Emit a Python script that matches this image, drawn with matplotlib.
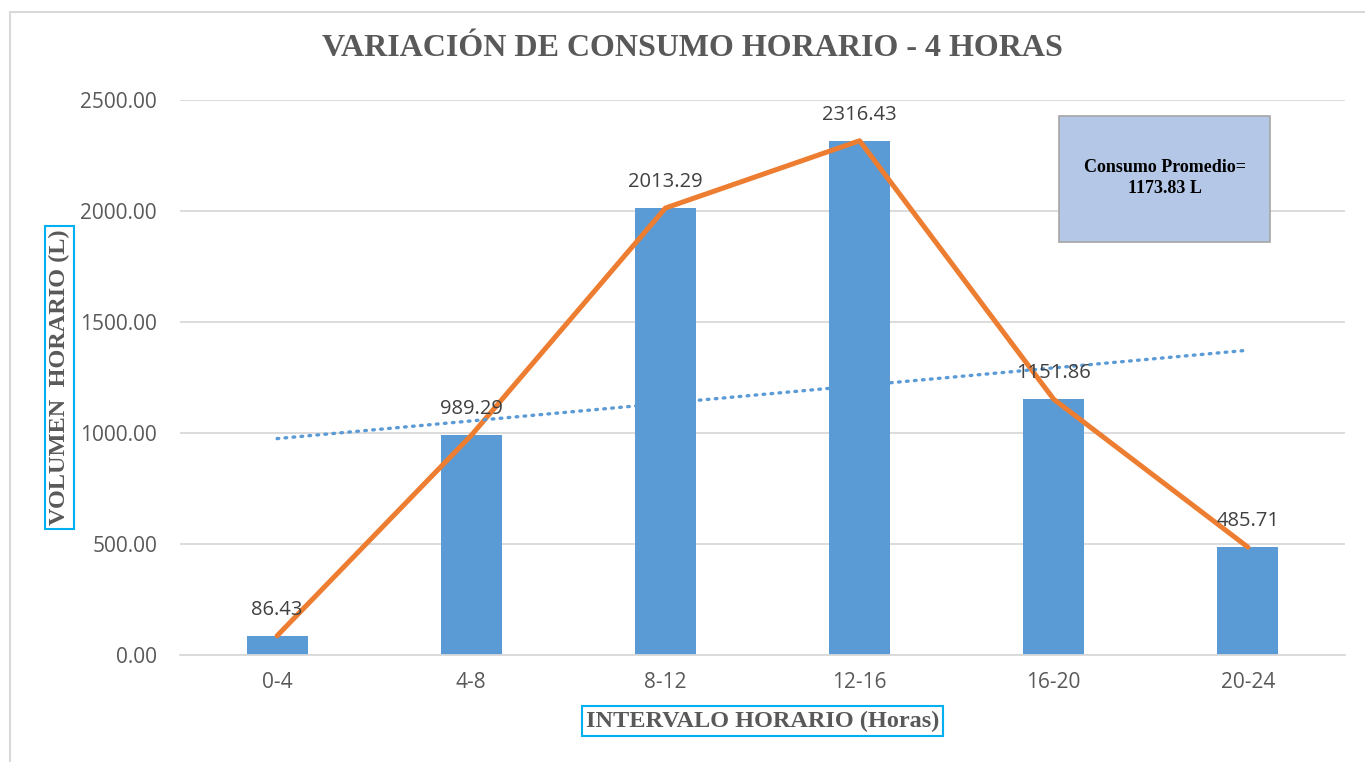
import numpy as np
import matplotlib
matplotlib.use("Agg")
import matplotlib.pyplot as plt
from matplotlib.patches import Rectangle

# Consumo por intervalo de 4 horas
intervalos = ["0-4", "4-8", "8-12", "12-16", "16-20", "20-24"]
volumen = [86.43, 989.29, 2013.29, 2316.43, 1151.86, 485.71]
consumo_promedio = 1173.83

AZUL = "#5B9BD5"
NARANJA = "#ED7D31"
GRIS = "#595959"
CIAN = "#00B0F0"

fig = plt.figure(figsize=(13.65, 7.62), dpi=100)
fig.patch.set_facecolor("white")

# marco del grafico
fig.patches.append(Rectangle((10 / 1365, -0.5), 1.5, 0.5 + 750 / 762,
                             transform=fig.transFigure, fill=False,
                             edgecolor="#D9D9D9", linewidth=1.5))

ax = fig.add_axes([180 / 1365, 107 / 762, 1165 / 1365, 555 / 762])
x = np.arange(len(intervalos))

ax.bar(x, volumen, width=0.315, color=AZUL, zorder=2)
ax.plot(x, volumen, color=NARANJA, linewidth=3.6, zorder=3,
        solid_capstyle="round")

# linea de tendencia lineal
m, b = np.polyfit(x, volumen, 1)
ax.plot(x, m * x + b, color=AZUL, linestyle=(0, (0.5, 1.9)), linewidth=2.4,
        dash_capstyle="round", zorder=3)

for xi, v in zip(x, volumen):
    ax.text(xi, v + 72, f"{v:.2f}", ha="center", va="bottom",
            fontsize=14.5, color="#404040", family="Open Sans", zorder=4)

ax.set_xlim(-0.5, 5.5)
ax.set_ylim(0, 2500)
ax.set_yticks(np.arange(0, 2501, 500))
ax.set_yticklabels([f"{t:.2f}" for t in np.arange(0, 2501, 500)])
ax.set_xticks(x)
ax.set_xticklabels(intervalos)
ax.grid(axis="y", color="#D9D9D9", linewidth=1.3, zorder=0)
ax.set_axisbelow(True)
for s in ax.spines.values():
    s.set_visible(False)
ax.spines["bottom"].set_visible(True)
ax.spines["bottom"].set_color("#D9D9D9")
ax.spines["bottom"].set_linewidth(1.3)
ax.tick_params(length=0, labelsize=15, labelcolor=GRIS)
ax.tick_params(axis="y", pad=16.5)
ax.tick_params(axis="x", pad=12)
for lbl in ax.get_xticklabels() + ax.get_yticklabels():
    lbl.set_family("Open Sans")

fig.text(692 / 1365, 1 - 48 / 762, "VARIACIÓN DE CONSUMO HORARIO - 4 HORAS",
         ha="center", va="center", fontsize=23, fontweight="bold",
         color=GRIS, family="Liberation Serif")

ax.set_ylabel("VOLUMEN  HORARIO (L)", fontsize=17.5, fontweight="bold",
              color=GRIS, family="Liberation Serif", labelpad=0,
              bbox=dict(facecolor="white", edgecolor=CIAN, linewidth=1.5,
                        pad=3))
ax.yaxis.set_label_coords(-0.0944, 0.5)

ax.set_xlabel("INTERVALO HORARIO (Horas)", fontsize=17.5, fontweight="bold",
              color=GRIS, family="Liberation Serif",
              bbox=dict(facecolor="white", edgecolor=CIAN, linewidth=1.5,
                        pad=3))
ax.xaxis.set_label_coords(0.5, -0.1)

# cuadro de consumo promedio
ax.add_patch(Rectangle((4.027, 1860), 1.087, 568, facecolor="#B4C7E7",
                       edgecolor="#A6A6A6", linewidth=1.2, zorder=5))
ax.text(4.573, 2150, f"Consumo Promedio=\n{consumo_promedio:.2f} L",
        ha="center", va="center", fontsize=13, fontweight="bold",
        color="black", family="Liberation Serif", linespacing=1.3,
        zorder=6)

fig.savefig("out.png", dpi=100, facecolor=fig.get_facecolor())
